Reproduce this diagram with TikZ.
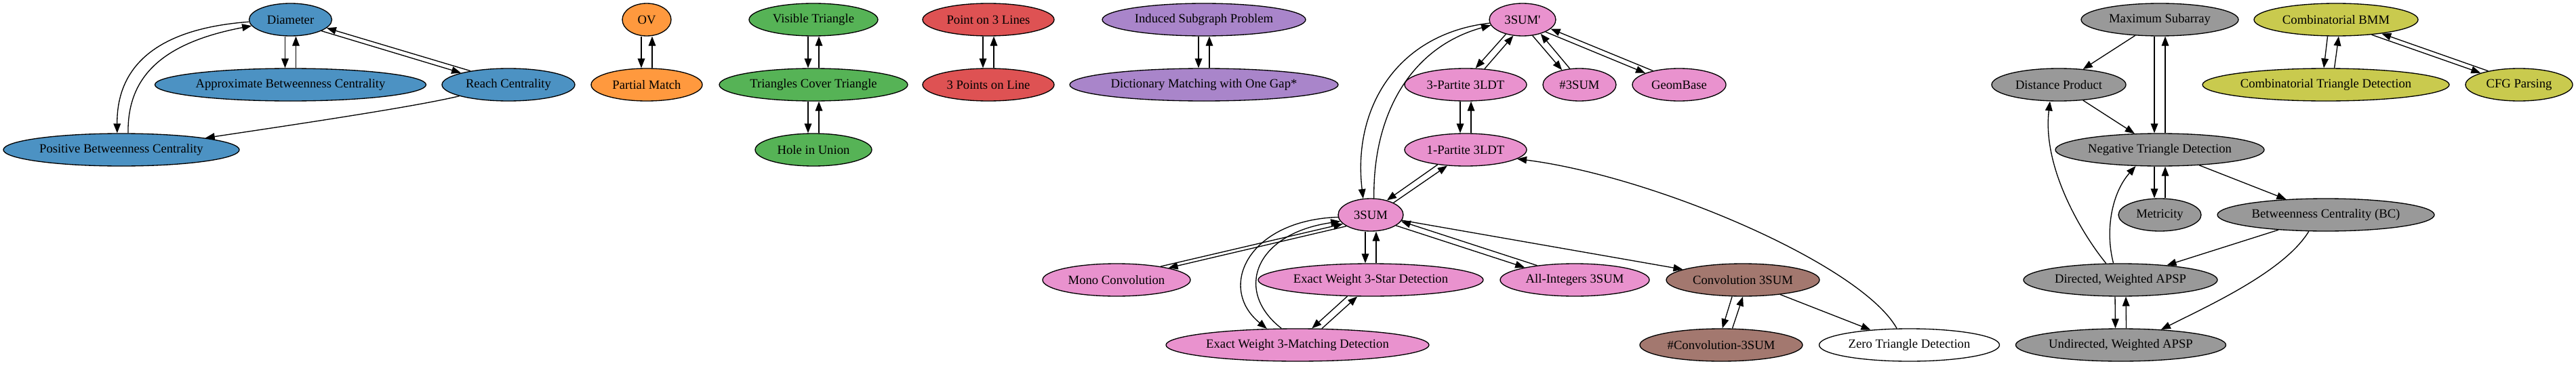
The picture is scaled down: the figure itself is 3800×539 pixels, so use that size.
\documentclass[tikz,border=0pt]{standalone}
\usepackage{fontspec}
\setmainfont{Liberation Serif}
\usetikzlibrary{shapes.geometric,arrows.meta}
\definecolor{cblue}{HTML}{4C92C3}
\definecolor{corange}{HTML}{FF993E}
\definecolor{cgreen}{HTML}{56B356}
\definecolor{cred}{HTML}{DE5253}
\definecolor{cpurple}{HTML}{A985CA}
\definecolor{cpink}{HTML}{E992CE}
\definecolor{cbrown}{HTML}{A3786F}
\definecolor{cgrey}{HTML}{999999}
\definecolor{colive}{HTML}{C9CA4E}
\tikzset{
  nd/.style={ellipse, draw=black, line width=1pt, minimum height=36pt, inner sep=0pt},
  W/.style={minimum width={1.5pt*#1}},
  e/.style={-{Triangle[length=10.5pt,width=8pt]}, line width=1pt, black},
}
\begin{document}
\begin{tikzpicture}[x=0.75pt, y=-0.75pt, font=\fontsize{14}{16}\selectfont]
\useasboundingbox (0,0) rectangle (3800,539);
% blue
\node[nd, fill=cblue, W=61]  (Diam) at (428.5,29) {Diameter};
\node[nd, fill=cblue, W=200] (ABC)  at (428.5,125) {Approximate Betweenness Centrality};
\node[nd, fill=cblue, W=98]  (RC)   at (750,125) {Reach Centrality};
\node[nd, fill=cblue, W=174] (PBC)  at (179,221) {Positive Betweenness Centrality};
% orange
\node[nd, fill=corange, W=36] (OV) at (954,29) {OV};
\node[nd, fill=corange, W=82] (PM) at (954,125) {Partial Match};
% green
\node[nd, fill=cgreen, W=95]  (VT)  at (1200,29) {Visible Triangle};
\node[nd, fill=cgreen, W=139] (TCT) at (1200,125) {Triangles Cover Triangle};
\node[nd, fill=cgreen, W=86]  (HU)  at (1200,221) {Hole in Union};
% red
\node[nd, fill=cred, W=97] (PTL) at (1458,29) {Point on 3 Lines};
\node[nd, fill=cred, W=97] (TPL) at (1458,125) {3 Points on Line};
% purple
\node[nd, fill=cpurple, W=150] (ISP) at (1776,29) {Induced Subgraph Problem};
\node[nd, fill=cpurple, W=198] (DMG) at (1776,125) {Dictionary Matching with One Gap*};
% pink
\node[nd, fill=cpink, W=49]  (TSp) at (2246,29) {3SUM\textquotesingle};
\node[nd, fill=cpink, W=90]  (TP)  at (2162,125) {3-Partite 3LDT};
\node[nd, fill=cpink, W=54]  (HS)  at (2330,125) {\#3SUM};
\node[nd, fill=cpink, W=69]  (GB)  at (2477,125) {GeomBase};
\node[nd, fill=cpink, W=90]  (OP)  at (2162,221) {1-Partite 3LDT};
\node[nd, fill=cpink, W=48]  (TS)  at (2022,317) {3SUM};
\node[nd, fill=cpink, W=109] (MC)  at (1647,413) {Mono Convolution};
\node[nd, fill=cpink, W=166] (ES)  at (2022,413) {Exact Weight 3-Star Detection};
\node[nd, fill=cpink, W=110] (AI)  at (2323,413) {All-Integers 3SUM};
\node[nd, fill=cpink, W=194] (EM)  at (1914,509) {Exact Weight 3-Matching Detection};
% brown
\node[nd, fill=cbrown, W=113] (CS) at (2571,413) {Convolution 3SUM};
\node[nd, fill=cbrown, W=120] (HC) at (2539,509) {\#Convolution-3SUM};
% white
\node[nd, fill=white, W=133] (ZT) at (2816.5,509) {Zero Triangle Detection};
% grey
\node[nd, fill=cgrey, W=116] (MS) at (3186,29) {Maximum Subarray};
\node[nd, fill=cgrey, W=99]  (DP) at (3037,125) {Distance Product};
\node[nd, fill=cgrey, W=154] (NT) at (3186,221) {Negative Triangle Detection};
\node[nd, fill=cgrey, W=61]  (ME) at (3186,317) {Metricity};
\node[nd, fill=cgrey, W=160] (BC) at (3431,317) {Betweenness Centrality (BC)};
\node[nd, fill=cgrey, W=143] (DA) at (3128,413) {Directed, Weighted APSP};
\node[nd, fill=cgrey, W=155] (UA) at (3128.5,509) {Undirected, Weighted APSP};
% olive
\node[nd, fill=colive, W=121] (BMM) at (3446,29) {Combinatorial BMM};
\node[nd, fill=colive, W=182] (CTD) at (3431,125) {Combinatorial Triangle Detection};
\node[nd, fill=colive, W=79]  (CFG) at (3716,125) {CFG Parsing};

% ---- edges: blue
\draw[e] ([xshift=-6pt]Diam.south) -- ([xshift=-6pt]ABC.north);
\draw[e] ([xshift=6pt]ABC.north) -- ([xshift=6pt]Diam.south);
\draw[e] (Diam.-20) -- (RC.166);
\draw[e] (RC.160) -- (Diam.-13.5);
\draw[e] (Diam.183) .. controls (235,42) and (172,95) .. (PBC.104);
\draw[e] (PBC.68) .. controls (188,120) and (230,65) .. (Diam.189);
\draw[e] (RC.-167) .. controls (610,158) and (420,186) .. (PBC.8);
% orange, green, red, purple
\draw[e] ([xshift=-6pt]OV.south) -- ([xshift=-6pt]PM.north);
\draw[e] ([xshift=6pt]PM.north) -- ([xshift=6pt]OV.south);
\draw[e] ([xshift=-6pt]VT.south) -- ([xshift=-6pt]TCT.north);
\draw[e] ([xshift=6pt]TCT.north) -- ([xshift=6pt]VT.south);
\draw[e] ([xshift=-6pt]TCT.south) -- ([xshift=-6pt]HU.north);
\draw[e] ([xshift=6pt]HU.north) -- ([xshift=6pt]TCT.south);
\draw[e] ([xshift=-6pt]PTL.south) -- ([xshift=-6pt]TPL.north);
\draw[e] ([xshift=6pt]TPL.north) -- ([xshift=6pt]PTL.south);
\draw[e] ([xshift=-6pt]ISP.south) -- ([xshift=-6pt]DMG.north);
\draw[e] ([xshift=6pt]DMG.north) -- ([xshift=6pt]ISP.south);
% pink
\draw[e] (TSp.-139) -- (TP.59);
\draw[e] (TP.40) -- (TSp.-120);
\draw[e] (TSp.-58) -- (HS.140.5);
\draw[e] (HS.121) -- (TSp.-38);
\draw[e] (TSp.-28) -- (GB.161.5);
\draw[e] (GB.152.5) -- (TSp.-18);
\draw[e] (TSp.186) .. controls (2060,50) and (1995,160) .. (TS.115);
\draw[e] (TS.79) .. controls (2025,170) and (2080,70) .. (TSp.190);
\draw[e] ([xshift=-6pt]TP.south) -- ([xshift=-6pt]OP.north);
\draw[e] ([xshift=6pt]OP.north) -- ([xshift=6pt]TP.south);
\draw[e] (OP.-152) -- (TS.42);
\draw[e] (TS.28) -- (OP.-139);
\draw[e] (ZT.127) .. controls (2745,390) and (2440,260) .. (OP.-10);
\draw[e] (TS.-155) -- (MC.13);
\draw[e] (MC.17.5) -- (TS.-162);
\draw[e] ([xshift=-6pt]TS.south) -- ([xshift=-6pt]ES.north);
\draw[e] ([xshift=6pt]ES.north) -- ([xshift=6pt]TS.south);
\draw[e] (TS.-23) -- (AI.166);
\draw[e] (AI.159) -- (TS.-12.5);
\draw[e] (TS) -- (CS);
\draw[e] (TS.-176) .. controls (1840,325) and (1795,425) .. (EM.152);
\draw[e] (EM.134) .. controls (1820,430) and (1850,345) .. (TS.-168);
\draw[e] (ES.-145.5) -- (EM.49.5);
\draw[e] (EM.34) -- (ES.-129.5);
% brown
\draw[e] (CS.-123) -- (HC.86);
\draw[e] (HC.56) -- (CS.-90.5);
\draw[e] (CS) -- (ZT);
% grey
\draw[e] (MS) -- (DP);
\draw[e] ([xshift=-6pt]MS.south) -- ([xshift=-6pt]NT.north);
\draw[e] ([xshift=6pt]NT.north) -- ([xshift=6pt]MS.south);
\draw[e] (DP) -- (NT);
\draw[e] ([xshift=-6pt]NT.south) -- ([xshift=-6pt]ME.north);
\draw[e] ([xshift=6pt]ME.north) -- ([xshift=6pt]NT.south);
\draw[e] (NT) -- (BC);
\draw[e] (BC) -- (DA);
\draw[e] (BC.-136.5) .. controls (3370,400) and (3260,450) .. (UA.21);
\draw[e] (DA.113) .. controls (3105,340) and (3115,285) .. (NT.-146.5);
\draw[e] (DA.131.5) .. controls (3075,350) and (3012,250) .. (DP.-118.5);
\draw[e] ([xshift=-6pt]DA.south) -- ([xshift=-6pt]UA.north);
\draw[e] ([xshift=6pt]UA.north) -- ([xshift=6pt]DA.south);
% olive
\draw[e] (BMM.-117.4) -- (CTD.97.4);
\draw[e] (CTD.63) -- (BMM.-81.5);
\draw[e] (BMM.-23) -- (CFG.163);
\draw[e] (CFG.156) -- (BMM.-17);
\end{tikzpicture}
\end{document}
